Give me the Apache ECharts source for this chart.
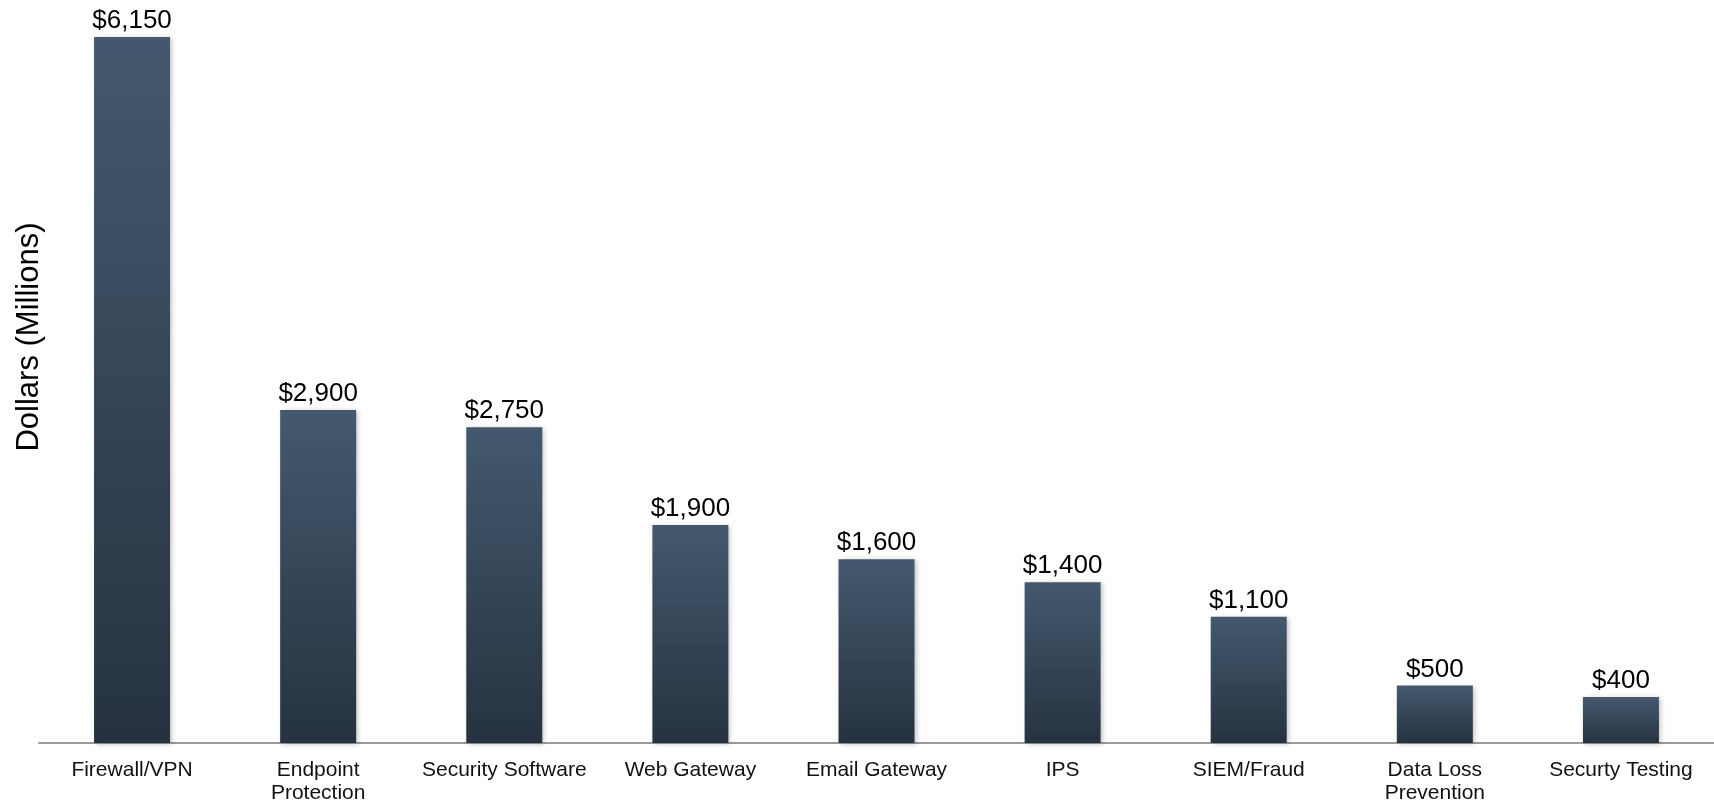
<!DOCTYPE html>
<html>
<head>
    <meta charset="utf-8">
    <title>Security spending</title>
    <script src="https://cdn.jsdelivr.net/npm/echarts@6/dist/echarts.min.js"></script>
    <style>
        html, body { margin: 0; padding: 0; background: #fff; }
    </style>
</head>
<body>
    <div id="main" style="width: 1714px;height:805px;"></div>

    <script type="text/javascript">
        // categories and values (millions of dollars)
        var categories = ['Firewall/VPN', 'Endpoint\nProtection', 'Security Software', 'Web Gateway',
            'Email Gateway', 'IPS', 'SIEM/Fraud', 'Data Loss\nPrevention', 'Securty Testing'];
        var values = [6150, 2900, 2750, 1900, 1600, 1400, 1100, 500, 400];

        var myChart = echarts.init(document.getElementById('main'));

        var option = {
            animation: false,
            textStyle: { fontFamily: 'Liberation Sans, Arial, sans-serif' },
            grid: { left: 39, right: 0, top: 37, bottom: 62 },
            xAxis: {
                type: 'category',
                data: categories,
                axisTick: { show: false },
                axisLine: { lineStyle: { color: '#9a9a9a', width: 2 } },
                axisLabel: {
                    interval: 0,
                    color: '#111',
                    fontSize: 21,
                    lineHeight: 23,
                    margin: 16
                }
            },
            yAxis: {
                type: 'value',
                min: 0,
                max: 6150,
                show: false,
                splitLine: { show: false }
            },
            graphic: [{
                type: 'text',
                x: 29,
                y: 337,
                rotation: Math.PI / 2,
                style: {
                    text: 'Dollars (Millions)',
                    font: '31px Liberation Sans, Arial, sans-serif',
                    fill: '#000',
                    textAlign: 'center',
                    textVerticalAlign: 'middle'
                }
            }],
            series: [{
                type: 'bar',
                data: values,
                barWidth: 76,
                itemStyle: {
                    color: new echarts.graphic.LinearGradient(0, 0, 0, 1, [
                        { offset: 0, color: '#44596f' },
                        { offset: 1, color: '#26323f' }
                    ]),
                    shadowColor: 'rgba(0,0,0,0.25)',
                    shadowBlur: 5,
                    shadowOffsetX: 2,
                    shadowOffsetY: 1
                },
                label: {
                    show: true,
                    position: 'top',
                    distance: 3,
                    color: '#000',
                    fontSize: 26,
                    formatter: function (p) {
                        return '$' + p.value.toLocaleString('en-US');
                    }
                }
            }]
        };

        myChart.setOption(option);
    </script>
</body>
</html>
